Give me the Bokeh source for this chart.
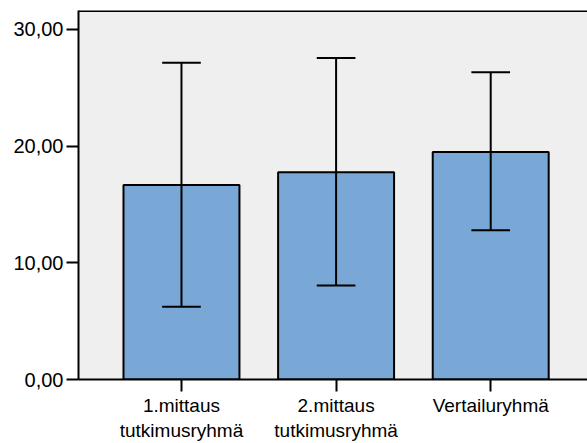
from bokeh.plotting import figure
from bokeh.models import FixedTicker, Range1d, Span, ColumnDataSource
from bokeh.embed import file_html
from bokeh.resources import INLINE

categories = ["1.mittaus\ntutkimusryhmä", "2.mittaus\ntutkimusryhmä", "Vertailuryhmä"]
means = [16.67, 17.75, 19.49]
upper = [27.15, 27.55, 26.32]
lower = [6.24, 8.06, 12.79]
y_ticks = [0, 10, 20, 30]
y_tick_labels = ["0,00", "10,00", "20,00", "30,00"]

xs = [i + 1 for i in range(len(categories))]
cap = 0.125
src = ColumnDataSource(dict(
    x=xs, top=means, up=upper, lo=lower,
    xl=[x - cap for x in xs], xr=[x + cap for x in xs],
))

p = figure(width=587, height=443, output_backend="svg", toolbar_location=None,
           x_range=Range1d(0.334, 3.626), y_range=Range1d(0, 31.62),
           min_border_left=78, min_border_right=0, min_border_top=10, min_border_bottom=63)

p.background_fill_color = "#efefef"
p.border_fill_color = "white"
p.outline_line_color = None
p.grid.visible = False

p.vbar(x="x", top="top", width=0.75, bottom=0, source=src,
       fill_color="#7aa8d6", line_color="black", line_width=2)
p.segment(x0="x", y0="lo", x1="x", y1="up", source=src, line_color="black", line_width=2)
p.segment(x0="xl", y0="up", x1="xr", y1="up", source=src, line_color="black", line_width=2)
p.segment(x0="xl", y0="lo", x1="xr", y1="lo", source=src, line_color="black", line_width=2)

p.add_layout(Span(location=31.58, dimension="width", line_color="black", line_width=2))

for ax in (p.xaxis[0], p.yaxis[0]):
    ax.axis_line_width = 2
    ax.axis_line_color = "black"
    ax.major_tick_line_width = 2
    ax.major_tick_line_color = "black"
    ax.major_tick_out = 12
    ax.major_tick_in = 0
    ax.minor_tick_line_color = None
    ax.major_label_text_font = "Liberation Sans"
    ax.major_label_text_color = "black"

p.yaxis.ticker = FixedTicker(ticks=y_ticks)
p.yaxis.major_label_overrides = {t: l for t, l in zip(y_ticks, y_tick_labels)}
p.yaxis.major_label_text_font_size = "20px"
p.yaxis.major_label_standoff = 3

p.xaxis.ticker = FixedTicker(ticks=xs)
p.xaxis.major_label_overrides = {x: c for x, c in zip(xs, categories)}
p.xaxis.major_label_text_font_size = "19px"
p.xaxis.major_label_standoff = 3

open("out.html", "w").write(file_html(p, INLINE))
